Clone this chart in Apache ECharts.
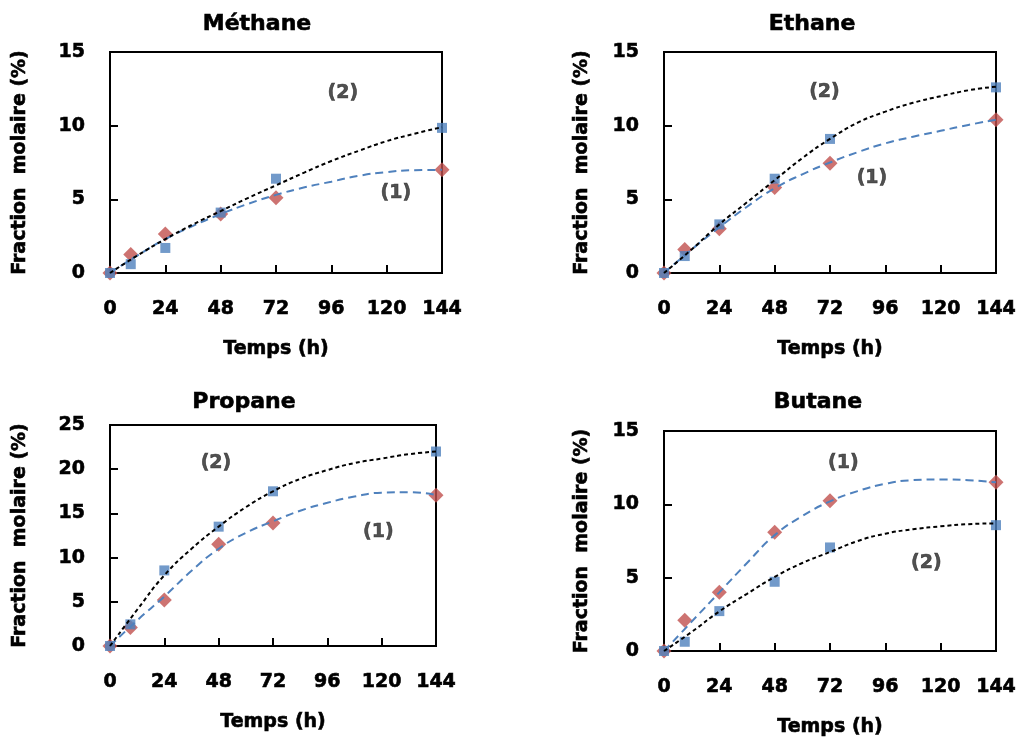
<!DOCTYPE html>
<html>
<head>
<meta charset="utf-8">
<script src="https://cdn.jsdelivr.net/npm/echarts@6/dist/echarts.min.js"></script>
<style>
	html, body { margin: 0; padding: 0; background: #fff; }
	#chart { width: 1020px; height: 743px; }
</style>
</head>
<body>
<div id="chart"></div>
<script>
	// temps de mesure (h)
	var hours = [0, 9, 24, 48, 72, 144];
	// abscisses des courbes de tendance
	var fitHours = [0, 12, 24, 36, 48, 60, 72, 84, 96, 108, 120, 132, 144];

	// Méthane
	var methane2 = [0, 0.6, 1.7, 4.1, 6.4, 9.85];
	var methane1 = [0, 1.25, 2.65, 4.0, 5.1, 7.0];
	var methaneFit2 = [0, 1.2, 2.3, 3.3, 4.2, 5.1, 5.95, 6.8, 7.6, 8.3, 8.95, 9.45, 9.9];
	var methaneFit1 = [0, 1.2, 2.3, 3.2, 4.0, 4.7, 5.3, 5.8, 6.2, 6.6, 6.85, 6.98, 7.0];

	// Ethane
	var ethane2 = [0, 1.15, 3.3, 6.4, 9.1, 12.6];
	var ethane1 = [0, 1.6, 3.0, 5.8, 7.45, 10.4];
	var ethaneFit2 = [0, 1.6, 3.3, 4.8, 6.3, 7.8, 9.1, 10.2, 10.95, 11.55, 12.0, 12.4, 12.65];
	var ethaneFit1 = [0, 1.6, 3.1, 4.5, 5.75, 6.7, 7.5, 8.2, 8.8, 9.25, 9.65, 10.05, 10.4];

	// Propane
	var propane2 = [0, 2.45, 8.55, 13.5, 17.5, 22.0];
	var propane1 = [0, 2.1, 5.2, 11.5, 13.9, 17.05];
	var propaneFit2 = [0, 4.1, 8.0, 11.0, 13.5, 15.7, 17.5, 18.9, 19.9, 20.7, 21.2, 21.7, 22.0];
	var propaneFit1 = [0, 2.9, 5.6, 8.5, 11.0, 12.8, 14.1, 15.3, 16.2, 16.9, 17.35, 17.4, 17.1];

	// Butane
	var butane2 = [0, 0.63, 2.72, 4.72, 7.06, 8.58];
	var butane1 = [0, 2.1, 4.0, 8.1, 10.25, 11.5];
	var butaneFit2 = [0, 1.3, 2.7, 3.9, 5.05, 6.0, 6.75, 7.5, 8.0, 8.3, 8.5, 8.65, 8.7];
	var butaneFit1 = [0, 2.0, 4.0, 6.0, 7.9, 9.2, 10.2, 10.9, 11.4, 11.65, 11.7, 11.65, 11.5];

	var FONT = 'DejaVu Sans';
	var BLUE = '#4F81BD';
	var RED = '#C0504D';

	// texte gras un peu épaissi
	function boldText(size, color) {
		return {
			fontFamily: FONT, fontSize: size, fontWeight: 'bold', color: color,
			textBorderColor: color, textBorderWidth: 0.6
		};
	}

	var panels = [
		{ title: 'Méthane', yMax: 15, yStep: 5, s2: methane2, s1: methane1, f2: methaneFit2, f1: methaneFit1,
			grid: { left: 110, top: 52, width: 332, height: 221 }, titlePos: [252, 8], yGap: 80,
			labels: [['(2)', 101, 12.2], ['(1)', 124, 5.4]] },
		{ title: 'Ethane', yMax: 15, yStep: 5, s2: ethane2, s1: ethane1, f2: ethaneFit2, f1: ethaneFit1,
			grid: { left: 664, top: 52, width: 332, height: 221 }, titlePos: [807, 8], yGap: 72,
			labels: [['(2)', 69.6, 12.3], ['(1)', 90.2, 6.45]] },
		{ title: 'Propane', yMax: 25, yStep: 5, s2: propane2, s1: propane1, f2: propaneFit2, f1: propaneFit1,
			grid: { left: 110, top: 425, width: 326, height: 221 }, titlePos: [239, 386], yGap: 80,
			labels: [['(2)', 46.8, 20.7], ['(1)', 118.5, 12.9]] },
		{ title: 'Butane', yMax: 15, yStep: 5, s2: butane2, s1: butane1, f2: butaneFit2, f1: butaneFit1,
			grid: { left: 664, top: 431, width: 332, height: 220 }, titlePos: [813, 386], yGap: 72,
			labels: [['(1)', 77.8, 12.8], ['(2)', 113.8, 6.0]] }
	];

	function zip(xs, ys) {
		return xs.map(function(x, i) { return [x, ys[i]]; });
	}

	var titles = [], grids = [], xAxes = [], yAxes = [], series = [];

	panels.forEach(function(p, i) {
		titles.push({
			text: p.title,
			left: p.titlePos[0],
			top: p.titlePos[1],
			textAlign: 'center',
			textStyle: boldText(22, '#000')
		});
		grids.push(Object.assign({
			show: true,
			borderColor: '#000',
			borderWidth: 2,
			backgroundColor: 'transparent'
		}, p.grid));
		xAxes.push({
			gridIndex: i,
			type: 'value',
			min: 0,
			max: 144,
			interval: 24,
			name: 'Temps (h)',
			nameLocation: 'middle',
			nameGap: 67,
			nameTextStyle: boldText(19, '#000'),
			axisLine: { lineStyle: { color: '#000', width: 2 } },
			axisTick: { inside: true, length: 8, lineStyle: { color: '#000', width: 2 } },
			axisLabel: Object.assign({ margin: 27 }, boldText(19, '#000')),
			splitLine: { show: false }
		});
		yAxes.push({
			gridIndex: i,
			type: 'value',
			min: 0,
			max: p.yMax,
			interval: p.yStep,
			name: 'Fraction  molaire (%)',
			nameLocation: 'middle',
			nameGap: p.yGap,
			nameTextStyle: boldText(19, '#000'),
			axisLine: { lineStyle: { color: '#000', width: 2 } },
			axisTick: { inside: true, length: 8, lineStyle: { color: '#000', width: 2 } },
			axisLabel: Object.assign({ margin: 25 }, boldText(19, '#000')),
			splitLine: { show: false }
		});

		// points (1) losanges rouges
		series.push({
			type: 'scatter', xAxisIndex: i, yAxisIndex: i, z: 2,
			symbol: 'diamond', symbolSize: 15,
			itemStyle: { color: RED },
			data: zip(hours, p.s1)
		});
		// points (2) carrés bleus
		series.push({
			type: 'scatter', xAxisIndex: i, yAxisIndex: i, z: 3,
			symbol: 'rect', symbolSize: 10,
			itemStyle: { color: BLUE },
			data: zip(hours, p.s2)
		});
		// courbes de tendance
		series.push({
			type: 'line', xAxisIndex: i, yAxisIndex: i, z: 4,
			smooth: true, showSymbol: false, silent: true,
			lineStyle: { color: BLUE, width: 2, type: [8, 5] },
			data: zip(fitHours, p.f1)
		});
		series.push({
			type: 'line', xAxisIndex: i, yAxisIndex: i, z: 5,
			smooth: true, showSymbol: false, silent: true,
			lineStyle: { color: '#000', width: 2, type: [4, 3] },
			data: zip(fitHours, p.f2)
		});
		// étiquettes (1) / (2)
		series.push({
			type: 'scatter', xAxisIndex: i, yAxisIndex: i, z: 6,
			symbolSize: 0, silent: true,
			label: Object.assign({
				show: true, position: 'inside',
				formatter: function(d) { return d.data.name; }
			}, boldText(19, '#262626')),
			data: p.labels.map(function(l) { return { name: l[0], value: [l[1], l[2]] }; })
		});
	});

	var myChart = echarts.init(document.getElementById('chart'), null, { renderer: 'canvas' });
	myChart.setOption({
		animation: false,
		backgroundColor: '#fff',
		title: titles,
		grid: grids,
		xAxis: xAxes,
		yAxis: yAxes,
		series: series
	});
</script>
</body>
</html>
